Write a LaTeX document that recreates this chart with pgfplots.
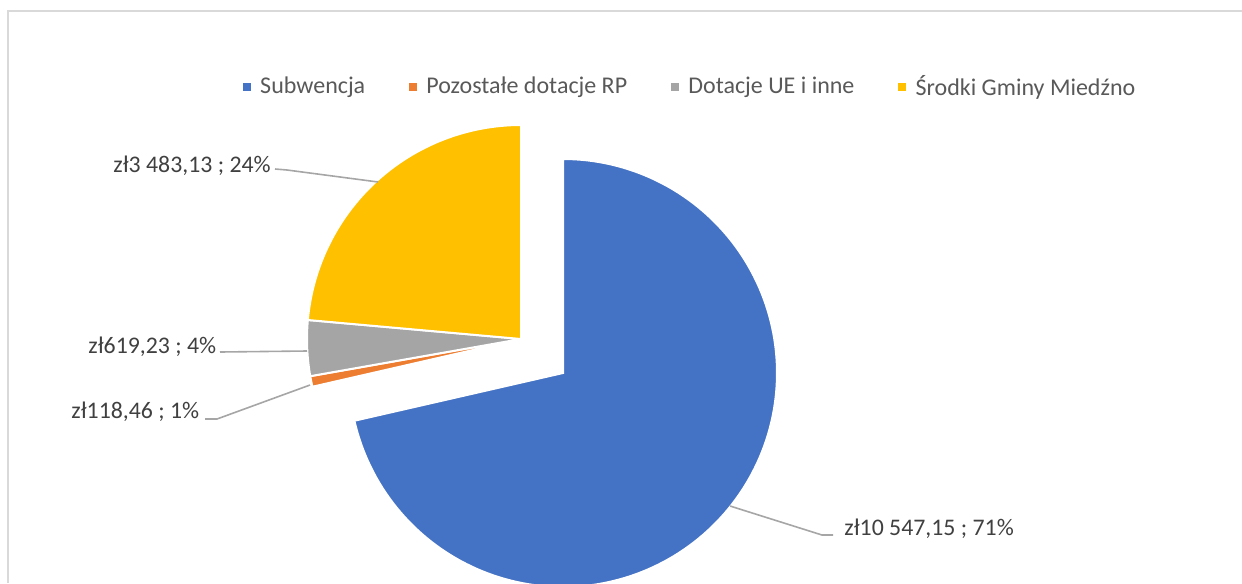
\documentclass[border=0pt]{standalone}
\usepackage{pgfplots}
\usepackage{pgfplotstable}
\pgfplotsset{compat=1.18}
\usepackage{fontspec}
\setmainfont{Carlito}
\definecolor{cBlue}{HTML}{4472C4}
\definecolor{cOrange}{HTML}{ED7D31}
\definecolor{cGray}{HTML}{A5A5A5}
\definecolor{cYellow}{HTML}{FFC000}
\definecolor{txt}{HTML}{404040}
\definecolor{legtxt}{HTML}{595959}
\definecolor{leader}{HTML}{A6A6A6}
\definecolor{frame}{HTML}{D9D9D9}

\pgfplotstableread{
idx value
0 10547.15
1 118.46
2 619.23
3 3483.13
}\piedata

\begin{document}
\begin{tikzpicture}
\pgfplotstablegetelem{0}{value}\of\piedata \pgfmathsetmacro\vA{\pgfplotsretval}
\pgfplotstablegetelem{1}{value}\of\piedata \pgfmathsetmacro\vB{\pgfplotsretval}
\pgfplotstablegetelem{2}{value}\of\piedata \pgfmathsetmacro\vC{\pgfplotsretval}
\pgfplotstablegetelem{3}{value}\of\piedata \pgfmathsetmacro\vD{\pgfplotsretval}
\pgfmathsetmacro\tot{\vA+\vB+\vC+\vD}
\pgfmathsetmacro\eA{90-360*(\vA/\tot)}
\pgfmathsetmacro\eB{\eA-360*(\vB/\tot)}
\pgfmathsetmacro\eC{\eB-360*(\vC/\tot)}
\pgfmathsetmacro\eCp{\eC+360}
\begin{axis}[
  width=621pt, height=291.5pt, scale only axis,
  xmin=0, xmax=1242, ymin=0, ymax=583,
  hide axis, clip=true,
  legend columns=4,
  legend style={at={(axis cs:689,496)}, anchor=center, draw=none, fill=none,
    font=\fontsize{12}{14}\selectfont, text=legtxt, inner sep=0pt,
    nodes={inner sep=0pt},
    /tikz/every odd column/.append style={column sep=4.8pt},
    /tikz/every even column/.append style={column sep=21.8pt}},
  legend image code/.code={\fill[#1,draw=none] (0pt,-2pt) rectangle (4pt,2pt);},
]
% frame
\addplot[frame, line width=1pt, forget plot] coordinates {(8,0) (8,572) (1242,572)};
% slices
\addplot[fill=cBlue, draw=white, line width=1pt, domain=\eA:90, samples=160, variable=\t]
  ({563+214*cos(\t)},{210+214*sin(\t)}) -- (axis cs:563,210) -- cycle;
\addlegendentry{Subwencja}
\addplot[fill=cOrange, draw=white, line width=1pt, domain=\eB:\eA, samples=8, variable=\t]
  ({521+214*cos(\t)},{244+214*sin(\t)}) -- (axis cs:521,244) -- cycle;
\addlegendentry{Pozostałe dotacje RP}
\addplot[fill=cGray, draw=white, line width=1pt, domain=\eC:\eB, samples=20, variable=\t]
  ({521+214*cos(\t)},{244+214*sin(\t)}) -- (axis cs:521,244) -- cycle;
\addlegendentry{Dotacje UE i inne}
\addplot[fill=cYellow, draw=white, line width=1pt, domain=90:\eCp, samples=100, variable=\t]
  ({521+214*cos(\t)},{244+214*sin(\t)}) -- (axis cs:521,244) -- cycle;
\addlegendentry{Środki Gminy Miedźno}
% leader lines
\addplot[leader, line width=0.8pt, forget plot] coordinates {(275,414) (287,413) (378,401)};
\addplot[leader, line width=0.8pt, forget plot] coordinates {(220,231) (307,232)};
\addplot[leader, line width=0.8pt, forget plot] coordinates {(205,164) (217,164) (310,198)};
\addplot[leader, line width=0.8pt, forget plot] coordinates {(730,77) (822,48) (833,48)};
% labels
\begin{scope}[every node/.style={anchor=base west, inner sep=0pt, text=txt, font=\fontsize{11.9}{14}\selectfont}]
\node at (axis cs:113,411) {zł3 483,13 ; 24\%};
\node at (axis cs:88,230) {zł619,23 ; 4\%};
\node at (axis cs:71,165) {zł118,46 ; 1\%};
\node at (axis cs:844,48) {zł10 547,15 ; 71\%};
\end{scope}
\end{axis}
\pgfresetboundingbox
\useasboundingbox (current axis.south west) rectangle (current axis.north east);
\end{tikzpicture}
\end{document}
